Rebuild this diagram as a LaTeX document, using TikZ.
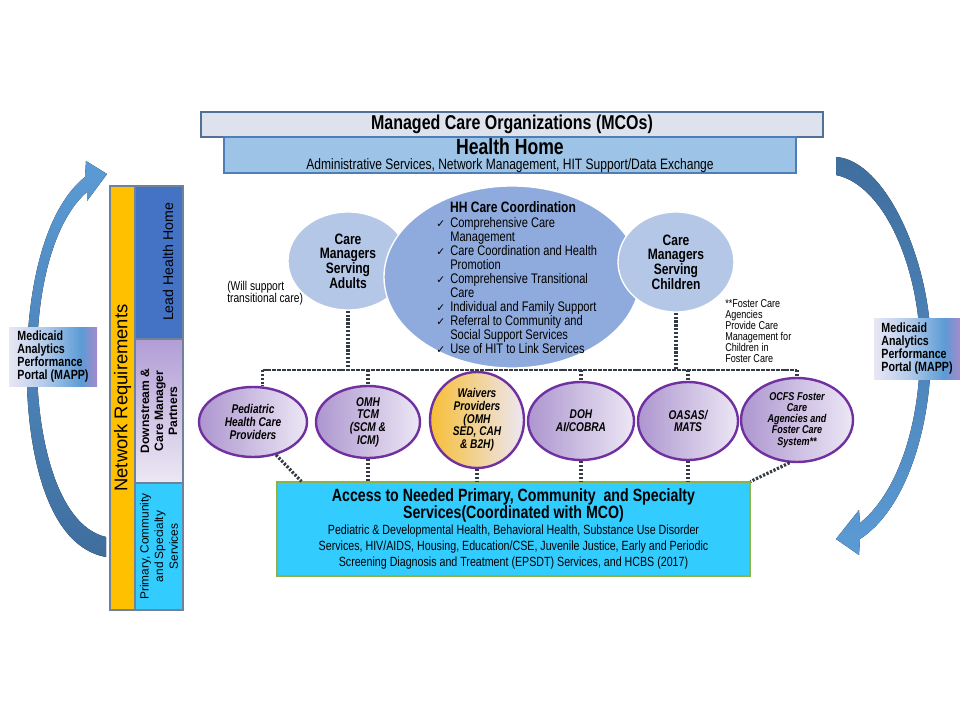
\documentclass[tikz,border=0pt]{standalone}
\usepackage{fontspec}
\setmainfont{Liberation Sans}[FakeStretch=0.8]
\newfontfamily\plainsans{Liberation Sans}
\newfontfamily\symfont{DejaVu Sans}
\usetikzlibrary{shapes.geometric,calc}
\definecolor{mcogray}{HTML}{DDE2EC}
\definecolor{mcoline}{HTML}{50709A}
\definecolor{hhblue}{HTML}{9DC3E6}
\definecolor{hhline}{HTML}{4F7DB5}
\definecolor{nryellow}{HTML}{FFC000}
\definecolor{barline}{HTML}{6F829C}
\definecolor{leadblue}{HTML}{4472C4}
\definecolor{dsdark}{HTML}{B29DD5}
\definecolor{dslight}{HTML}{ECE8F4}
\definecolor{svccyan}{HTML}{33CCFF}
\definecolor{accline}{HTML}{8CB24A}
\definecolor{cmblue}{HTML}{B4C7E7}
\definecolor{hhccblue}{HTML}{8FAADC}
\definecolor{provline}{HTML}{7030A0}
\definecolor{provdark}{HTML}{AD96CF}
\definecolor{provlight}{HTML}{ECE7F5}
\definecolor{waivergold}{HTML}{F7BE35}
\definecolor{dotgray}{HTML}{333B46}
\definecolor{arrowlight}{HTML}{5B9BD5}
\definecolor{arrowdark}{HTML}{3F6E9E}
\definecolor{mapplav}{HTML}{E9E7F5}
\definecolor{mappmid}{HTML}{B3CBEA}
\definecolor{mappblue}{HTML}{5B9BD5}
\definecolor{mapppurp}{HTML}{A58BCB}
\pgfdeclarehorizontalshading{mappshade}{100bp}{color(0bp)=(mapplav); color(25bp)=(mapplav); color(45bp)=(mappmid); color(66bp)=(mappblue); color(75bp)=(mapppurp); color(100bp)=(mapppurp)}
\newcommand{\chk}{\makebox[10.5pt][l]{\symfont\fontsize{8}{8}\selectfont ✓}}
\newcommand{\chkind}{\hspace*{10.5pt}}
\begin{document}
\begin{tikzpicture}[x=0.75pt,y=-0.75pt,
    flatbox/.style={rectangle,inner sep=0pt,line width=1pt},
    bar/.style={rectangle,inner sep=0pt,draw=barline,line width=0.8pt,minimum width=36pt},
    mapp/.style={rectangle,shade,shading=mappshade,inner sep=0pt,align=left,font=\fontsize{10}{9.6}\selectfont\bfseries},
    cmgr/.style={ellipse,inner sep=0pt,fill=cmblue,draw=white,line width=1pt,align=center,font=\fontsize{11.3}{11}\selectfont\bfseries},
    provider/.style={ellipse,inner sep=0pt,draw=provline,line width=1.8pt,left color=provdark,right color=provlight,align=center,font=\fontsize{9.5}{9.5}\selectfont\bfseries\itshape},
    note/.style={inner sep=0pt,align=left,anchor=west},
    dotline/.style={draw=dotgray,line width=2.4pt,dash pattern=on 1.7pt off 1.2pt},
    busline/.style={draw=dotgray,line width=0.8pt,dash pattern=on 3pt off 0.7pt}]
      \path[use as bounding box] (0,0) rectangle (960,720);
      \fill[top color=arrowlight,bottom color=arrowdark] (106,557) .. controls (40,545) and (24,430) .. (27,350) .. controls (30,270) and (50,205) .. (85,177) -- (86,161) -- (107,174) -- (87,201) -- (87,192) .. controls (60,215) and (39,270) .. (37,350) .. controls (35,430) and (55,525) .. (106,537) -- cycle;
      \fill[top color=arrowdark,bottom color=arrowlight] (836,157) .. controls (885,160) and (931,260) .. (931,350) .. controls (931,430) and (905,510) .. (860,539) -- (859,555) -- (836,539) -- (859,510) -- (860,523) .. controls (895,495) and (920,430) .. (920,350) .. controls (920,270) and (885,185) .. (836,175) -- cycle;
      \node[flatbox,fill=mcogray,draw=mcoline,minimum width=466.5pt,minimum height=18.75pt,font=\fontsize{15}{15}\selectfont\bfseries] (mco) at (512,124.5) {Managed Care Organizations (MCOs)};
      \node[flatbox,fill=hhblue,draw=hhline,minimum width=429pt,minimum height=27pt] (hh) at (510,155) {};
      \node[inner sep=0pt,font=\fontsize{16.5}{16}\selectfont\bfseries] (hhtitle) at (510,146.5) {Health Home};
      \node[inner sep=0pt,font=\fontsize{11.3}{12}\selectfont] (hhsub) at (510,166) {Administrative Services, Network Management, HIT Support/Data Exchange};
      \node[bar,fill=nryellow,minimum width=18.75pt,minimum height=318pt] (nreq) at (122.5,398) {};
      \node[rotate=90,inner sep=0pt,font=\plainsans\fontsize{13.8}{14}\selectfont] (nreqtext) at (nreq) {Network Requirements};
      \node[bar,fill=leadblue,minimum height=114.75pt] (leadhh) at (159,262.5) {};
      \node[rotate=90,inner sep=0pt,font=\plainsans\fontsize{10.6}{11}\selectfont] (leadtext) at (168,262) {Lead Health Home};
      \node[bar,top color=dsdark,bottom color=dslight,minimum height=108pt] (dstream) at (159,411) {};
      \node[rotate=90,align=center,inner sep=0pt,font=\plainsans\bfseries\fontsize{9.1}{10.5}\selectfont] (dstext) at (dstream) {Downstream \&\\Care Manager\\Partners};
      \node[bar,fill=svccyan,minimum height=95.25pt] (primsvc) at (159,546.5) {};
      \node[rotate=90,align=center,inner sep=0pt,font=\plainsans\fontsize{8.9}{10.9}\selectfont] (primtext) at (primsvc) {Primary, Community\\and Specialty\\Services};
      \node[mapp,minimum width=66pt,minimum height=44.25pt] (mappL) at (53,356.5) {Medicaid\\Analytics\\Performance\\Portal (MAPP)};
      \node[mapp,minimum width=64.5pt,minimum height=45.75pt] (mappR) at (917,348.5) {Medicaid\\Analytics\\Performance\\Portal (MAPP)};
      \node[cmgr,minimum width=90pt,minimum height=73.5pt] (cmadult) at (348,261) {Care\\Managers\\Serving\\Adults};
      \node[ellipse,fill=hhccblue,draw=white,line width=1pt,minimum width=192pt,minimum height=136.5pt] (hhcc) at (512,277) {};
      \node[inner sep=0pt,font=\fontsize{11.3}{12}\selectfont\bfseries] (hhcctitle) at (513,207) {HH Care Coordination};
      \node[anchor=north west,inner sep=0pt,align=left,font=\fontsize{10.4}{10.5}\selectfont] (hhcclist) at (436,217) {\chk Comprehensive Care\\\chkind Management\\\chk Care Coordination and Health\\\chkind Promotion\\\chk Comprehensive Transitional\\\chkind Care\\\chk Individual and Family Support\\\chk Referral to Community and\\\chkind Social Support Services\\\chk Use of HIT to Link Services};
      \node[cmgr,minimum width=87pt,minimum height=75pt] (cmchild) at (676,262) {Care\\Managers\\Serving\\Children};
      \node[note,font=\fontsize{9.6}{9}\selectfont] (transnote) at (227,293) {(Will support\\transitional care)};
      \node[note,font=\fontsize{8.5}{8.25}\selectfont] (fosternote) at (725,331.5) {**Foster Care\\Agencies\\Provide Care\\Management for\\Children in\\Foster Care};
      \node[provider,minimum width=81pt,minimum height=52.5pt] (ped) at (253,422) {Pediatric\\Health Care\\Providers};
      \node[provider,minimum width=78pt,minimum height=54pt] (omh) at (368,422) {OMH\\TCM\\(SCM \&\\ICM)};
      \node[provider,left color=waivergold,minimum width=70.5pt,minimum height=72pt] (waiver) at (477,420) {Waivers\\Providers\\(OMH\\SED, CAH\\\& B2H)};
      \node[provider,minimum width=79.5pt,minimum height=58.5pt] (doh) at (581,421) {DOH\\AI/COBRA};
      \node[provider,minimum width=75pt,minimum height=58.5pt] (oasas) at (688,421) {OASAS/\\MATS};
      \node[provider,minimum width=84pt,minimum height=63pt,font=\fontsize{8.5}{8.4}\selectfont\bfseries\itshape] (ocfs) at (797,420) {OCFS Foster\\Care\\Agencies and\\Foster Care\\System**};
      \node[flatbox,fill=svccyan,draw=accline,line width=0.8pt,minimum width=354.75pt,minimum height=70.5pt,align=center,font=\fontsize{10}{12}\selectfont] (access) at (513.5,529) {\bfseries\fontsize{13.3}{12.5}\selectfont Access to Needed Primary, Community\ \ and Specialty\\\bfseries\fontsize{13.3}{12.5}\selectfont Services(Coordinated with MCO)\\\mdseries\fontsize{10}{12}\selectfont Pediatric \& Developmental Health, Behavioral Health, Substance Use Disorder\\\mdseries\fontsize{10}{12}\selectfont Services, HIV/AIDS, Housing, Education/CSE, Juvenile Justice, Early and Periodic\\\mdseries\fontsize{10}{12}\selectfont Screening Diagnosis and Treatment (EPSDT) Services, and HCBS (2017)};
      \coordinate (busy) at (0,370);
      \draw[busline] (ped.75 |- busy) -- (ocfs.north |- busy);
      \draw[dotline] (cmadult.south) -- (cmadult.south |- busy);
      \draw[dotline] (cmchild.south) -- (cmchild.south |- busy);
      \draw[dotline] (ped.75 |- busy) -- (ped.75);
      \draw[dotline] (omh.north |- busy) -- (omh.north);
      \draw[dotline] (waiver.north |- busy) -- (waiver.north);
      \draw[dotline] (doh.north |- busy) -- (doh.north);
      \draw[dotline] (oasas.north |- busy) -- (oasas.north);
      \draw[dotline] (ocfs.north |- busy) -- (ocfs.north);
      \draw[dotline] (ped.-55) -- ($(access.north west)+(25,0)$);
      \draw[dotline] (omh.south) -- (omh.south |- access.north);
      \draw[dotline] (waiver.south) -- (waiver.south |- access.north);
      \draw[dotline] (doh.south) -- (doh.south |- access.north);
      \draw[dotline] (oasas.south) -- (oasas.south |- access.north);
      \draw[dotline] (ocfs.-100) -- (access.north east);
\end{tikzpicture}
\end{document}
